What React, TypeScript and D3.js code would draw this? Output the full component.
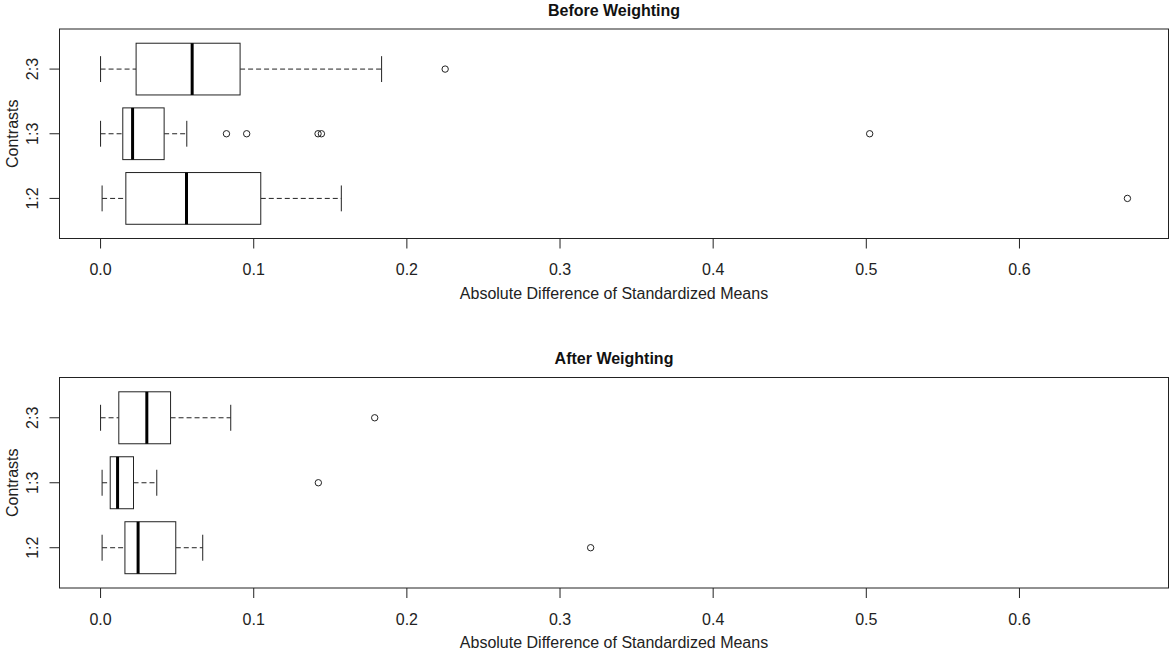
import React from "react";
import * as d3 from "d3";

const categories = ["1:2", "1:3", "2:3"];
const xTicks = [0, 0.1, 0.2, 0.3, 0.4, 0.5, 0.6];

// [lower whisker, Q1, median, Q3, upper whisker]
const beforeStats = [
  [0.001, 0.0165, 0.0561, 0.1046, 0.1572],
  [0.0, 0.0145, 0.0209, 0.0415, 0.0563],
  [0.0, 0.0232, 0.0598, 0.0911, 0.1835],
];
const beforeOutliers = [
  [0.6705],
  [0.0822, 0.0954, 0.142, 0.1442, 0.5022],
  [0.225],
];
const afterStats = [
  [0.001, 0.0159, 0.0245, 0.0491, 0.0667],
  [0.001, 0.0063, 0.0111, 0.0215, 0.0367],
  [0.0, 0.0119, 0.0302, 0.0457, 0.085],
];
const afterOutliers = [[0.32], [0.1422], [0.179]];

const FONT = "'Liberation Sans', Arial, sans-serif";
const LEFT = 59.5;
const RIGHT = 1168.5;

const allVals = [
  ...beforeStats.flat(),
  ...beforeOutliers.flat(),
  ...afterStats.flat(),
  ...afterOutliers.flat(),
];
const xMin = d3.min(allVals) as number;
const xMax = d3.max(allVals) as number;
const pad = (xMax - xMin) * 0.04;
const x = d3.scaleLinear().domain([xMin - pad, xMax + pad]).range([LEFT, RIGHT]);

function Panel({
  title,
  top,
  bottom,
  stats,
  outliers,
}: {
  title: string;
  top: number;
  bottom: number;
  stats: number[][];
  outliers: number[][];
}) {
  const y = d3.scaleLinear().domain([0.5 - 0.12, 3.5 + 0.12]).range([bottom, top]);
  const unit = Math.abs(y(1) - y(0));
  const boxH = unit * 0.8;
  const capH = boxH / 2;
  return (
    <g>
      <text
        x={(LEFT + RIGHT) / 2}
        y={top - 13.3}
        textAnchor="middle"
        fontFamily={FONT}
        fontWeight="bold"
        fontSize={16}
        fill="#111"
      >
        {title}
      </text>
      {stats.map((s, i) => {
        const cy = y(i + 1);
        const [lo, q1, med, q3, hi] = s;
        return (
          <g key={i}>
            <line x1={x(lo)} x2={x(q1)} y1={cy} y2={cy} stroke="#222" strokeDasharray="5,3" />
            <line x1={x(q3)} x2={x(hi)} y1={cy} y2={cy} stroke="#222" strokeDasharray="5,3" />
            <line x1={x(lo)} x2={x(lo)} y1={cy - capH / 2} y2={cy + capH / 2} stroke="#222" />
            <line x1={x(hi)} x2={x(hi)} y1={cy - capH / 2} y2={cy + capH / 2} stroke="#222" />
            <rect
              x={x(q1)}
              y={cy - boxH / 2}
              width={x(q3) - x(q1)}
              height={boxH}
              fill="white"
              stroke="#222"
            />
            <line
              x1={x(med)}
              x2={x(med)}
              y1={cy - boxH / 2}
              y2={cy + boxH / 2}
              stroke="#000"
              strokeWidth={3}
            />
            {outliers[i].map((o, j) => (
              <circle key={j} cx={x(o)} cy={cy} r={3.2} fill="none" stroke="#222" />
            ))}
          </g>
        );
      })}
      <rect x={LEFT} y={top} width={RIGHT - LEFT} height={bottom - top} fill="none" stroke="#222" />
      {xTicks.map((t) => (
        <g key={t}>
          <line x1={x(t)} x2={x(t)} y1={bottom} y2={bottom + 10} stroke="#222" />
          <text
            x={x(t)}
            y={bottom + 36.5}
            textAnchor="middle"
            fontFamily={FONT}
            fontSize={16}
            fill="#222"
          >
            {d3.format(".1f")(t)}
          </text>
        </g>
      ))}
      <text
        x={(LEFT + RIGHT) / 2}
        y={bottom + 60}
        textAnchor="middle"
        fontFamily={FONT}
        fontSize={16}
        fill="#222"
      >
        Absolute Difference of Standardized Means
      </text>
      {categories.map((c, i) => (
        <g key={c}>
          <line x1={LEFT - 10} x2={LEFT} y1={y(i + 1)} y2={y(i + 1)} stroke="#222" />
          <text
            transform={`translate(${LEFT - 22},${y(i + 1)}) rotate(-90)`}
            textAnchor="middle"
            fontFamily={FONT}
            fontSize={16}
            fill="#222"
          >
            {c}
          </text>
        </g>
      ))}
      <text
        transform={`translate(17.7,${(top + bottom) / 2}) rotate(-90)`}
        textAnchor="middle"
        fontFamily={FONT}
        fontSize={16}
        fill="#222"
      >
        Contrasts
      </text>
    </g>
  );
}

export default function App() {
  return (
    <svg
      width={1170}
      height={656}
      style={{ position: "absolute", left: 0, top: 0, background: "white" }}
    >
      <rect width={1170} height={656} fill="white" />
      <Panel title="Before Weighting" top={29} bottom={238.5} stats={beforeStats} outliers={beforeOutliers} />
      <Panel title="After Weighting" top={377.5} bottom={588} stats={afterStats} outliers={afterOutliers} />
    </svg>
  );
}
